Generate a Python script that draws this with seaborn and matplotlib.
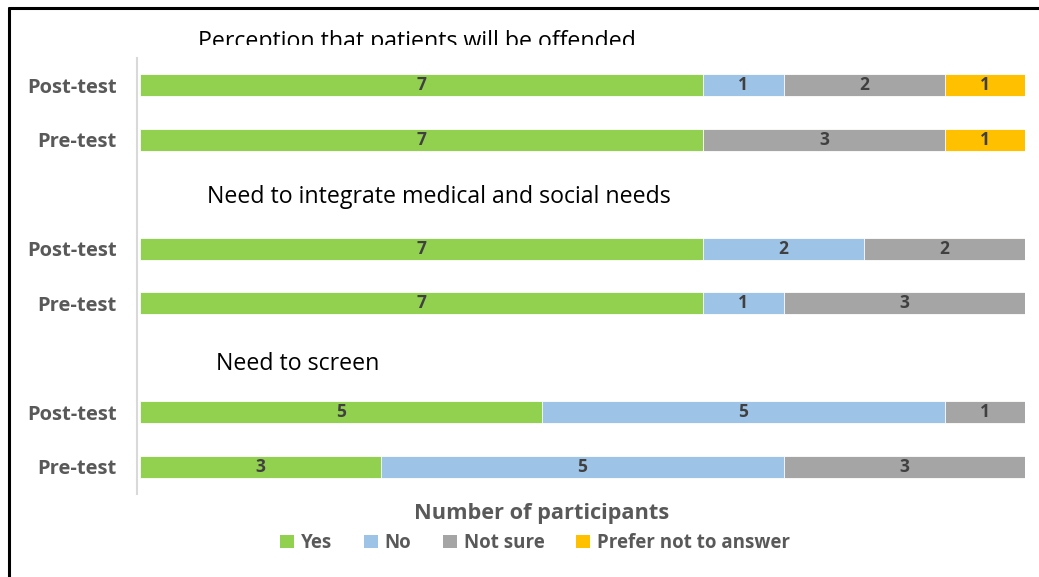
import matplotlib
matplotlib.use("Agg")
import matplotlib.pyplot as plt
import seaborn as sns
import pandas as pd
import numpy as np
from matplotlib.transforms import Bbox, TransformedBbox
from matplotlib.patches import Patch

# ---- data ----
groups = ["Perception that patients will be offended",
          "Need to integrate medical and social needs",
          "Need to screen"]
phases = ["Post-test", "Pre-test"]
answers = ["Yes", "No", "Not sure", "Prefer not to answer"]
yes_vals = [7, 7, 7, 7, 5, 3]
no_vals = [1, 0, 2, 1, 5, 5]
notsure_vals = [2, 3, 2, 3, 1, 3]
prefer_vals = [1, 1, 0, 0, 0, 0]
colors = ["#92D050", "#9DC3E6", "#A5A5A5", "#FFC000"]

sns.set_theme(style="white")
plt.rcParams['font.family'] = ['Open Sans', 'DejaVu Sans']
plt.rcParams['font.weight'] = 'bold'

keys = []
for gi, g in enumerate(groups):
    for pi, p in enumerate(phases):
        keys.append(f"{gi}|{p}")
df = pd.DataFrame({"key": keys, "Yes": yes_vals, "No": no_vals,
                   "Not sure": notsure_vals, "Prefer not to answer": prefer_vals})
vals = df[answers].to_numpy()
cum = np.cumsum(vals, axis=1)
for i, a in enumerate(answers):
    df[a + "_cum"] = cum[:, i]

order = [keys[0], keys[1], "sp1", keys[2], keys[3], "sp2", keys[4], keys[5]]

fig = plt.figure(figsize=(10.39, 5.77), dpi=100)
ax = fig.add_axes([140/1039, 1-494/577, 885/1039, 436/577])

for i in range(len(answers) - 1, -1, -1):
    a = answers[i]
    sns.barplot(data=df, y="key", x=a + "_cum", order=order, color=colors[i],
                orient="h", width=0.41, ax=ax, saturation=1,
                edgecolor="white", linewidth=0.6)

# data labels
pos = {k: order.index(k) for k in keys}
for r, k in enumerate(keys):
    left = 0
    for i, a in enumerate(answers):
        v = vals[r, i]
        if v > 0:
            ax.text(left + v / 2, pos[k], str(v), ha="center", va="center",
                    fontsize=12.5, fontweight="bold", color="#404040")
        left += v

ax.set_xlim(0, 11)
ax.set_ylim(7.5, -0.5)
ax.set_yticks(range(len(order)))
ax.set_yticklabels([k.split("|")[1] if "|" in k else "" for k in order])
ax.tick_params(axis="y", length=0, pad=15, labelsize=14.5, labelcolor="#595959")
ax.set_xticks([])
ax.set_xlabel("")
ax.set_ylabel("")
for s in ["top", "right", "bottom"]:
    ax.spines[s].set_visible(False)
ax.spines["left"].set_color("#D9D9D9")
ax.spines["left"].set_linewidth(1.5)
ax.spines["left"].set_position(("outward", 2))

# group titles
tsize = 16.7
t1 = ax.text(0.72, -0.8, groups[0], ha="left", va="center", fontsize=tsize,
             color="black", fontweight="normal")
clip = TransformedBbox(Bbox([[0, 1 - 44.5/577], [1, 1]]), fig.transFigure)
t1.set_clip_on(True)
t1.set_clip_box(clip)
ax.text(0.83, 2.05, groups[1], ha="left", va="center", fontsize=tsize,
        color="black", fontweight="normal")
ax.text(0.945, 5.12, groups[2], ha="left", va="center", fontsize=tsize,
        color="black", fontweight="normal")

fig.text(0.5217, 1 - 514/577, "Number of participants", ha="center", va="center",
         fontsize=15.7, fontweight="bold", color="#595959")

handles = [Patch(facecolor=c, edgecolor="none") for c in colors]
fig.legend(handles, answers, loc="center", bbox_to_anchor=(0.515, 1 - 543/577), ncol=4,
           frameon=False, handlelength=0.75, handleheight=0.75, handletextpad=0.35,
           columnspacing=1.7, prop={"size": 13.5, "weight": "bold"}, labelcolor="#595959")

# border lines (top and left)
fig.add_artist(plt.Line2D([8.5/1039, 1], [1 - 8/577, 1 - 8/577], transform=fig.transFigure,
                          color="black", linewidth=2.2))
fig.add_artist(plt.Line2D([8.5/1039, 8.5/1039], [0, 1 - 8/577], transform=fig.transFigure,
                          color="black", linewidth=2.2))

fig.savefig("out.png", dpi=100, facecolor="white")
